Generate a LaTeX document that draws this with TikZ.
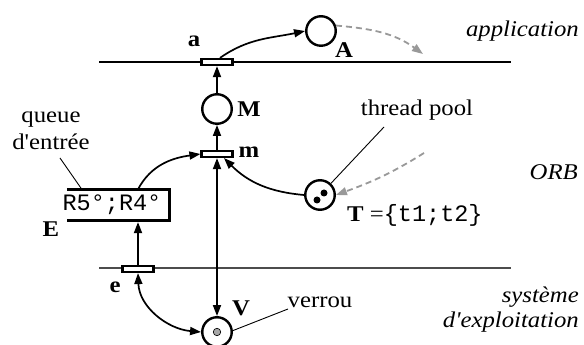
\documentclass[tikz,border=0pt]{standalone}
\usepackage{fontspec}
\setmainfont{Liberation Serif}[FakeStretch=1.1,Ligatures=TeXOff]
\setmonofont{Liberation Mono}
\usetikzlibrary{arrows.meta}
\begin{document}
\begin{tikzpicture}[x=1pt,y=1pt,
  font=\fontsize{22.5}{26}\selectfont,
  place/.style={circle,draw,line width=2.4pt,minimum size=29.5pt,inner sep=0pt},
  trans/.style={rectangle,draw,line width=2.2pt,fill=white,minimum width=31pt,minimum height=6pt,inner sep=0pt},
  tok/.style={circle,fill=black,inner sep=0pt,minimum size=7pt},
  arc/.style={line width=1.7pt,-{Triangle[length=11pt,width=8pt]}},
  biarc/.style={line width=1.7pt,{Triangle[length=11pt,width=8pt]}-{Triangle[length=11pt,width=8pt]}},
  dasharc/.style={draw=gray!80,line width=1.8pt,dash pattern=on 6pt off 4pt,-{Triangle[length=11pt,width=8pt]}},
  lead/.style={line width=0.9pt},
  lbl/.style={font=\fontsize{22.5}{26}\selectfont\bfseries,inner sep=0pt},
  layer/.style={font=\fontsize{22.5}{25}\selectfont\itshape,inner sep=0pt,align=right,anchor=east},
  txt/.style={inner sep=0pt,align=center},
  tt/.style={font=\fontsize{23.5}{26}\selectfont\ttfamily,inner sep=0pt}
]
\useasboundingbox (0,0) rectangle (584,345);
% layer lines
\draw[line width=1.3pt] (99,283) -- (511,283);
\draw[line width=1.5pt,black!70] (99,77) -- (511,77);

% places and transitions
\node[trans] (a) at (217,283) {};
\node[place] (A) at (321,314) {};
\node[place] (M) at (217,236) {};
\node[trans] (m) at (217,191) {};
\node[place] (T) at (320,150) {};
\node[tok] (t1) at (317,145) {};
\node[tok] (t2) at (324,152) {};
\node[place] (V) at (217,13) {};
\node[circle,draw,fill=gray!70,line width=0.6pt,minimum size=7.5pt,inner sep=0pt] (Vt) at (V) {};
\node[trans] (e) at (138,76) {};

% queue box
\node[minimum width=102.5pt,minimum height=31pt,inner sep=0pt] (Q) at (118.25,140) {};
\draw[line width=2.8pt] (Q.north west) -- (Q.north east) -- (Q.south east) -- (Q.south west);
\node[tt] (Qt) at (112,140) {R5°;R4°};

% labels
\node[lbl] (la) at (194,304) {a};
\node[lbl] (lA) at (344,295) {A};
\node[lbl] (lM) at (249,236) {M};
\node[lbl] (lm) at (249,193) {m};
\node[lbl] (lE) at (51,116) {E};
\node[lbl] (le) at (115,58) {e};
\node[lbl] (lV) at (241,37) {V};
\node[inner sep=0pt,anchor=west] (lT) at (347,130) {\textbf{T} =\fontsize{23.5}{26}\selectfont\ttfamily\{t1;t2\}};

\node[layer] (lapp) at (579,314) {application};
\node[layer] (lorb) at (578,173) {ORB};
\node[layer] (lsys) at (579,35) {système\\d'exploitation};

\node[txt] (ltp) at (417,235) {thread pool};
\node[txt,font=\fontsize{22.5}{27}\selectfont] (lq) at (51,214) {queue\\d'entrée};
\node[txt] (lv) at (320,43) {verrou};

% leaders
\coordinate (tpl) at (384,218);
\draw[lead] (tpl) -- (T);
\coordinate (ql) at (60,187);
\coordinate (qe) at ([xshift=15pt]Q.north west);
\draw[lead] (ql) -- (qe);
\coordinate (vl) at (288,36);
\draw[lead] (V.5) -- (vl);

% arcs
\draw[arc] ([xshift=3pt]a.north) to[out=35,in=192] (A.west);
\draw[arc] (M) -- (a);
\draw[arc] (m) -- (M);
\draw[arc] (e |- Q.north) to[out=62,in=188] (m.west);
\draw[arc] (T.west) to[out=175,in=-45] ([xshift=7pt]m.south);
\draw[arc] (e.north) -- ([yshift=-1.4pt]e.north |- Q.south);
\draw[biarc] (e.south) to[out=-88,in=175] (V.west);
\draw[biarc] (m) -- (V);

% dashed
\coordinate (dA) at (423,291);
\draw[dasharc] (A.20) to[out=-5,in=144] (dA);
\coordinate (dT) at (424,192);
\draw[dasharc] (dT) to[out=212,in=20] (T.east);
\end{tikzpicture}
\end{document}
